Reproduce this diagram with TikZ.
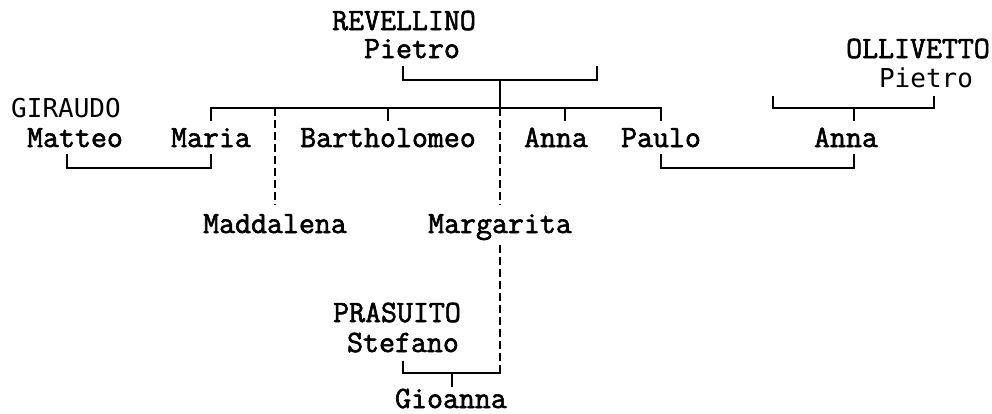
\documentclass[tikz,border=0pt]{standalone}
\usepackage{fontspec}
\newfontfamily\smono[FakeBold=2]{Latin Modern Mono}
\newfontfamily\sansmono{DejaVu Sans Mono}
\begin{document}
\begin{tikzpicture}[x=1pt,y=-1pt,
  nm/.style={anchor=base,inner sep=0pt,font=\fontsize{31}{31}\selectfont\smono},
  sm/.style={anchor=base,inner sep=0pt,font=\fontsize{26}{26}\selectfont\sansmono},
  ln/.style={line width=2pt,line cap=rect},
  dl/.style={line width=2pt,dash pattern=on 8pt off 4pt}]
\useasboundingbox (0,0) rectangle (992,413);
% names
\node[nm] (rev) at (404,30) {REVELLINO};
\node[nm] (revp) at (412,58) {Pietro};
\node[nm] (oll) at (918,58) {OLLIVETTO};
\node[sm] (ollp) at (926,87) {Pietro};
\node[sm] (gir) at (66,117) {GIRAUDO};
\node[nm] (mat) at (75,147) {Matteo};
\node[nm] (mar) at (211,147) {Maria};
\node[nm] (bar) at (388,147) {Bartholomeo};
\node[nm] (ann) at (556,147) {Anna};
\node[nm] (pau) at (661,147) {Paulo};
\node[nm] (ann2) at (846,147) {Anna};
\node[nm] (mad) at (275,233) {Maddalena};
\node[nm] (mag) at (500,233) {Margarita};
\node[nm] (pra) at (397,322) {PRASUITO};
\node[nm] (ste) at (403,352) {Stefano};
\node[nm] (gio) at (451,408) {Gioanna};
% junction coordinates
\coordinate (r1) at (403,67); \coordinate (r2) at (597,67);
\coordinate (rc) at (500,80); \coordinate (cb) at (500,108);
\coordinate (bl) at (211,108); \coordinate (br) at (661,108);
\coordinate (madtop) at (275,108); \coordinate (madend) at (275,205);
\coordinate (magtop) at (500,205); \coordinate (magbot) at (500,245);
\coordinate (sc) at (500,373);
\coordinate (o1) at (773,97); \coordinate (o2) at (934,97);
\coordinate (oc) at (854,108);
% Revellino marriage
\draw[ln] (r1) |- (rc) -| (r2);
\draw[ln] (rc) -- (cb);
\draw[ln] (bl) -- (br);
\draw[ln] (bl) -- (211,120);
\draw[ln] (388,108) -- (388,120);
\draw[ln] (565,108) -- (565,120);
\draw[ln] (br) -- (661,120);
\draw[dl] (madtop) -- (madend);
\draw[dl] (cb) -- (magtop);
% Giraudo - Maria
\draw[ln] (67,155) |- (211,168) -- (211,155);
% Paulo - Anna
\draw[ln] (661,155) |- (854,168) -- (854,155);
% Ollivetto
\draw[ln] (o1) |- (oc) -| (o2);
\draw[ln] (oc) -- (854,120);
% Prasuito - Margarita
\draw[dl] (magbot) -- (sc);
\draw[ln] (403,362) |- (sc);
\draw[ln] (452,373) -- (452,386);
\end{tikzpicture}
\end{document}
